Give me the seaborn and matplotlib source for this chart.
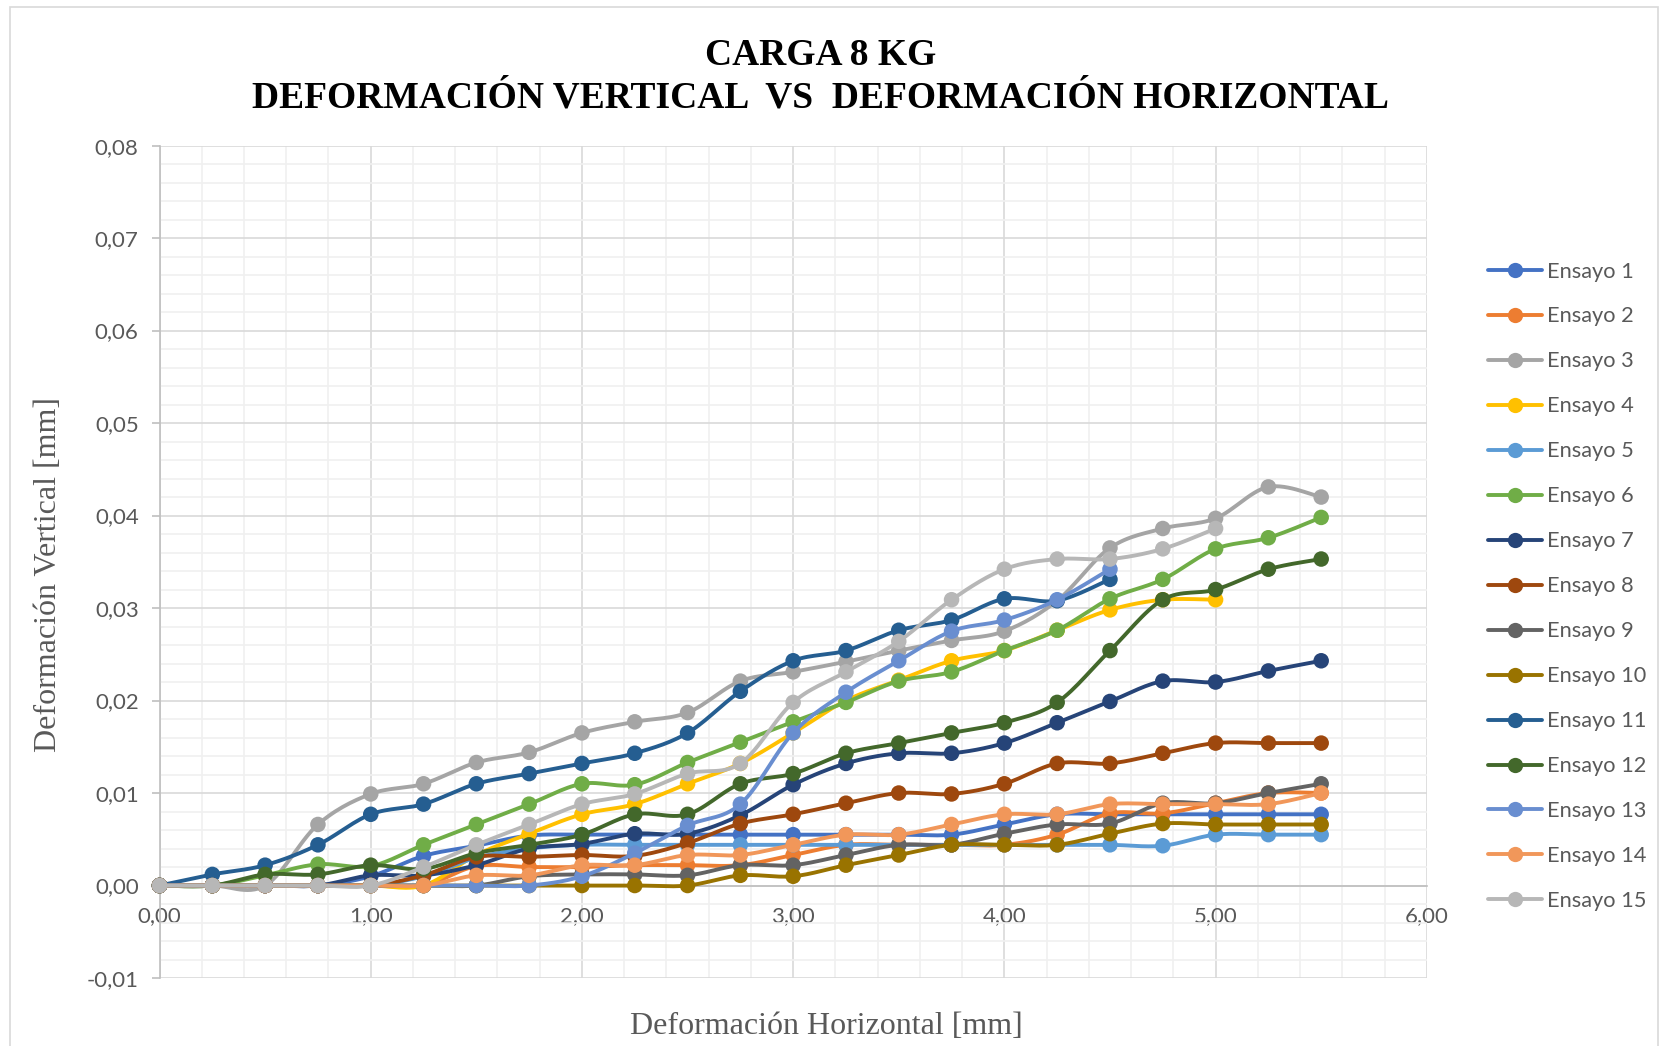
import numpy as np
import pandas as pd
import matplotlib
matplotlib.use('Agg')
import matplotlib.pyplot as plt
from matplotlib.lines import Line2D
from matplotlib.patches import Rectangle
from matplotlib.ticker import MultipleLocator, FuncFormatter
import seaborn as sns

# Deformación horizontal [mm]
x_mm = [0.00, 0.25, 0.50, 0.75, 1.00, 1.25, 1.50, 1.75, 2.00, 2.25, 2.50, 2.75,
        3.00, 3.25, 3.50, 3.75, 4.00, 4.25, 4.50, 4.75, 5.00, 5.25, 5.50]

# Deformación vertical [mm] por ensayo
e1 = [0, 0, 0, 0, 0.0010, 0.0032, 0.0043, 0.0054, 0.0055, 0.0055, 0.0055, 0.0055,
      0.0055, 0.0055, 0.0055, 0.0055, 0.0066, 0.0077, 0.0077, 0.0077, 0.0077, 0.0077, 0.0077]
e2 = [0, 0, 0, 0, 0, 0, 0.0021, 0.0020, 0.0020, 0.0022, 0.0022, 0.0022,
      0.0033, 0.0044, 0.0044, 0.0044, 0.0044, 0.0055, 0.0078, 0.0078, 0.0089, 0.0100, 0.0100]
e3 = [0, 0, 0, 0.0066, 0.0099, 0.0110, 0.0133, 0.0144, 0.0165, 0.0177, 0.0187, 0.0221,
      0.0231, 0.0242, 0.0254, 0.0265, 0.0275, 0.0308, 0.0365, 0.0386, 0.0397, 0.0431, 0.0420]
e4 = [0, 0, 0, 0, 0, 0, 0.0033, 0.0056, 0.0077, 0.0088, 0.0110, 0.0132,
      0.0165, 0.0200, 0.0222, 0.0243, 0.0254, 0.0276, 0.0298, 0.0309, 0.0309]
e5 = [0, 0, 0, 0, 0, 0.0010, 0.0030, 0.0040, 0.0044, 0.0044, 0.0044, 0.0044,
      0.0044, 0.0044, 0.0044, 0.0044, 0.0044, 0.0044, 0.0044, 0.0043, 0.0055, 0.0055, 0.0055]
e6 = [0, 0, 0.0011, 0.0023, 0.0021, 0.0044, 0.0066, 0.0088, 0.0110, 0.0109, 0.0133, 0.0155,
      0.0177, 0.0198, 0.0221, 0.0231, 0.0254, 0.0276, 0.0310, 0.0331, 0.0364, 0.0376, 0.0398]
e7 = [0, 0, 0, 0, 0.0011, 0.0011, 0.0022, 0.0040, 0.0045, 0.0056, 0.0056, 0.0076,
      0.0109, 0.0132, 0.0143, 0.0143, 0.0154, 0.0176, 0.0199, 0.0221, 0.0220, 0.0232, 0.0243]
e8 = [0, 0, 0, 0, 0, 0.0011, 0.0031, 0.0031, 0.0033, 0.0032, 0.0046, 0.0067,
      0.0077, 0.0089, 0.0100, 0.0099, 0.0110, 0.0132, 0.0132, 0.0143, 0.0154, 0.0154, 0.0154]
e9 = [0, 0, 0, 0, 0, 0, 0, 0.0010, 0.0012, 0.0012, 0.0011, 0.0022,
      0.0022, 0.0033, 0.0044, 0.0044, 0.0056, 0.0066, 0.0067, 0.0089, 0.0089, 0.0100, 0.0110]
e10 = [0, 0, 0, 0, 0, 0, 0, 0, 0, 0, 0, 0.0011,
       0.0010, 0.0022, 0.0033, 0.0044, 0.0044, 0.0044, 0.0056, 0.0067, 0.0066, 0.0066, 0.0066]
e11 = [0, 0.0012, 0.0022, 0.0044, 0.0077, 0.0088, 0.0110, 0.0121, 0.0132, 0.0143, 0.0165, 0.0210,
       0.0243, 0.0254, 0.0276, 0.0287, 0.0310, 0.0308, 0.0331]
e12 = [0, 0, 0.0012, 0.0012, 0.0022, 0.0018, 0.0035, 0.0044, 0.0055, 0.0077, 0.0077, 0.0110,
       0.0121, 0.0143, 0.0154, 0.0165, 0.0176, 0.0198, 0.0254, 0.0309, 0.0320, 0.0342, 0.0353]
e13 = [0, 0, 0, 0, 0, 0, 0, 0, 0.0010, 0.0035, 0.0065, 0.0088,
       0.0165, 0.0209, 0.0243, 0.0275, 0.0287, 0.0309, 0.0342]
e14 = [0, 0, 0, 0, 0, 0, 0.0011, 0.0011, 0.0022, 0.0022, 0.0033, 0.0033,
       0.0044, 0.0055, 0.0055, 0.0066, 0.0077, 0.0077, 0.0088, 0.0088, 0.0088, 0.0088, 0.0100]
e15 = [0, 0, 0, 0, 0, 0.0020, 0.0044, 0.0066, 0.0088, 0.0099, 0.0121, 0.0132,
       0.0198, 0.0231, 0.0264, 0.0309, 0.0342, 0.0353, 0.0353, 0.0364, 0.0386]

series = [e1, e2, e3, e4, e5, e6, e7, e8, e9, e10, e11, e12, e13, e14, e15]
labels = [f"Ensayo {i}" for i in range(1, 16)]
colors = ['#4472C4', '#ED7D31', '#A5A5A5', '#FFC000', '#5B9BD5', '#70AD47',
          '#264478', '#9E480E', '#636363', '#997300', '#255E91', '#43682B',
          '#698ED0', '#F1975A', '#B7B7B7']


def smooth_curve(xs, ys, n=16):
    # bezier smoothing like excel's "smoothed line"
    p = np.column_stack([xs, ys]).astype(float)
    p = np.vstack([p[0], p, p[-1]])
    t = np.linspace(0, 1, n)[:, None]
    out = []
    for i in range(1, len(p) - 2):
        p0, p1, p2, p3 = p[i - 1], p[i], p[i + 1], p[i + 2]
        b1 = p1 + (p2 - p0) / 6
        b2 = p2 - (p3 - p1) / 6
        seg = (1 - t) ** 3 * p1 + 3 * (1 - t) ** 2 * t * b1 + 3 * (1 - t) * t ** 2 * b2 + t ** 3 * p2
        out.append(seg if i == 1 else seg[1:])
    return np.vstack(out)


sns.set_style("white")
plt.rcParams['font.family'] = ['Lato', 'DejaVu Sans']

fig = plt.figure(figsize=(16.67, 10.46), dpi=100)
ax = fig.add_axes([0.0957, 0.065, 0.7602, 0.7958])

for i, (ys, lab, c) in enumerate(zip(series, labels, colors)):
    xs = x_mm[:len(ys)]
    curve = smooth_curve(xs, ys)
    sns.lineplot(x=curve[:, 0], y=curve[:, 1], color=c, lw=2.8, sort=False,
                 estimator=None, ax=ax, zorder=3 + 2 * i)
    sns.scatterplot(x=xs, y=ys, color=c, s=125, edgecolor='none', ax=ax,
                    zorder=4 + 2 * i, clip_on=False)

ax.set_xlim(0, 6)
ax.set_ylim(-0.01, 0.08)
ax.xaxis.set_major_locator(MultipleLocator(1))
ax.xaxis.set_minor_locator(MultipleLocator(0.2))
ax.yaxis.set_major_locator(MultipleLocator(0.01))
ax.yaxis.set_minor_locator(MultipleLocator(0.002))
fmt = FuncFormatter(lambda v, pos: f"{v:.2f}".replace('.', ',').replace('-0,00', '0,00'))
ax.xaxis.set_major_formatter(fmt)
ax.yaxis.set_major_formatter(fmt)

ax.grid(which='major', color='#D9D9D9', lw=1.2, zorder=0)
ax.grid(which='minor', color='#F0F0F0', lw=1.2, zorder=0)
ax.set_axisbelow(True)

for s in ['top', 'right']:
    ax.spines[s].set_visible(False)
ax.spines['bottom'].set_position(('data', 0))
ax.spines['bottom'].set_color('#BFBFBF')
ax.spines['left'].set_color('#BFBFBF')
ax.spines['bottom'].set_linewidth(1.2)
ax.spines['left'].set_linewidth(1.2)

ax.tick_params(axis='y', which='major', length=6, width=1.2, color='#BFBFBF',
               labelsize=16, labelcolor='#595959', pad=9, left=True)
ax.tick_params(axis='x', which='major', length=0, labelsize=16,
               labelcolor='#595959', pad=15, bottom=True)
ax.tick_params(which='minor', length=0)
ax.set_xlabel('')
ax.set_ylabel('')

serif = ['Liberation Serif', 'DejaVu Serif']
fig.text(0.492, 0.947, 'CARGA 8 KG', ha='center', va='center', fontsize=27,
         fontweight='bold', family=serif, color='black')
fig.text(0.492, 0.906, 'DEFORMACIÓN VERTICAL  VS  DEFORMACIÓN HORIZONTAL', ha='center',
         va='center', fontsize=27, fontweight='bold', family=serif, color='black')
fig.text(0.0292, 0.451, 'Deformación Vertical [mm]', rotation=90, ha='center', va='center',
         fontsize=23, family=serif, color='#595959')
fig.text(0.496, 0.019, 'Deformación Horizontal [mm]', ha='center', va='center',
         fontsize=23, family=serif, color='#595959')

handles = [Line2D([0], [0], color=c, lw=2.8, marker='o', markersize=11,
                  markeredgewidth=0) for c in colors]
fig.legend(handles, labels, loc='upper left', bbox_to_anchor=(0.8926, 0.750),
           frameon=False, fontsize=15.7, labelcolor='#595959', handlelength=2.5,
           handletextpad=0.2, labelspacing=1.145, borderpad=0, borderaxespad=0)

fig.add_artist(Rectangle((10 / 1667, -0.01), 1648 / 1667, 1.003, transform=fig.transFigure,
                         fill=False, ec='#D9D9D9', lw=1.2))

fig.savefig('out.png', dpi=100)
plt.close()
